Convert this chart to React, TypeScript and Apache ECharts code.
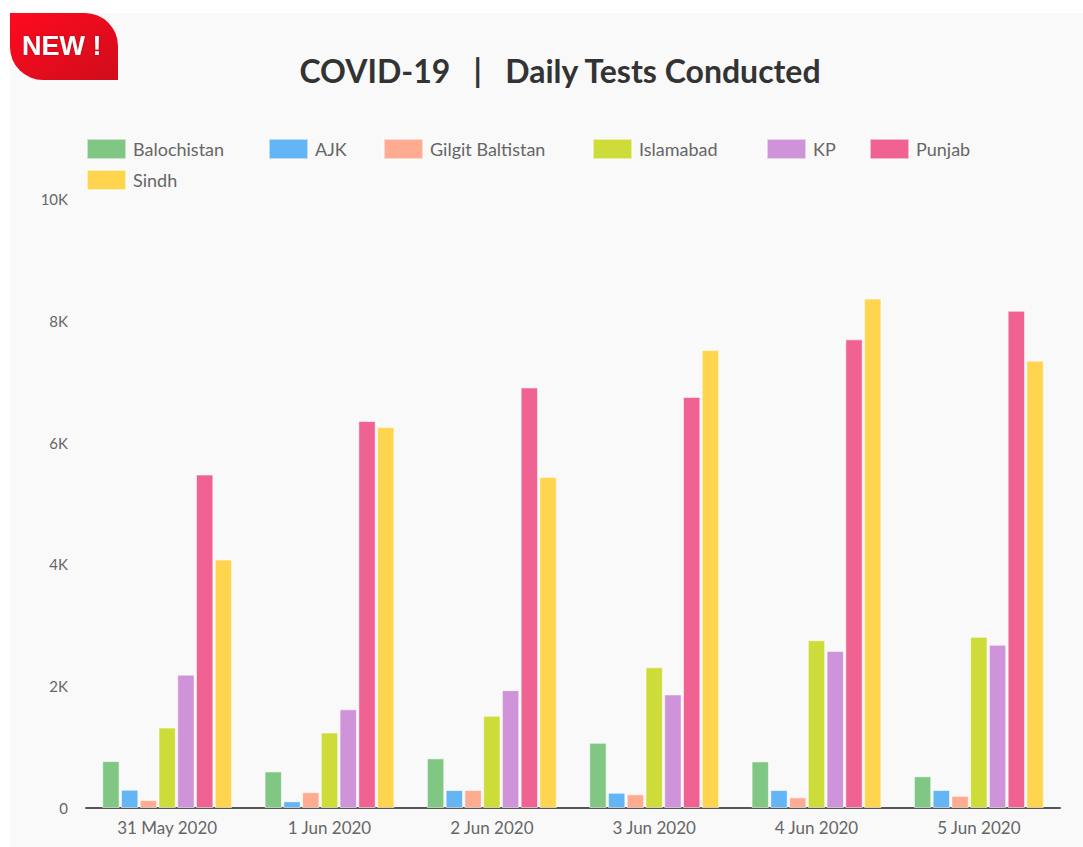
import React, { useEffect, useRef } from "react";
import * as echarts from "echarts";

const categories = ["31 May 2020", "1 Jun 2020", "2 Jun 2020", "3 Jun 2020", "4 Jun 2020", "5 Jun 2020"];
const seriesNames = ["Balochistan", "AJK", "Gilgit Baltistan", "Islamabad", "KP", "Punjab", "Sindh"];
const balochistan = [770, 600, 815, 1070, 765, 520];
const ajk = [300, 110, 295, 250, 295, 295];
const gilgitBaltistan = [130, 260, 295, 225, 175, 200];
const islamabad = [1320, 1240, 1515, 2310, 2755, 2810];
const kp = [2190, 1620, 1935, 1865, 2580, 2680];
const punjab = [5475, 6355, 6905, 6750, 7695, 8165];
const sindh = [4080, 6255, 5435, 7520, 8365, 7345];
const yTicks = [0, 2000, 4000, 6000, 8000, 10000];

const colors = ["#81c784", "#64b5f6", "#ffab91", "#cddc39", "#ce93d8", "#f06292", "#ffd54f"];
const seriesValues = [balochistan, ajk, gilgitBaltistan, islamabad, kp, punjab, sindh];
const legendPos = [
  { left: 86, top: 138 },
  { left: 268, top: 138 },
  { left: 383, top: 138 },
  { left: 592, top: 138 },
  { left: 766, top: 138 },
  { left: 869, top: 138 },
  { left: 86, top: 169 },
];

const FONT = "Lato, 'Open Sans', sans-serif";

export default function App() {
  const ref = useRef<HTMLDivElement>(null);
  useEffect(() => {
    if (!ref.current) return;
    const chart = echarts.init(ref.current, null, { renderer: "svg" });
    chart.setOption({
      animation: false,
      backgroundColor: "transparent",
      textStyle: { fontFamily: FONT },
      title: {
        text: "COVID-19   |   Daily Tests Conducted",
        left: 555,
        textAlign: "center",
        top: 49,
        textStyle: { fontSize: 32, fontWeight: "bold", color: "#333", fontFamily: FONT },
      },
      legend: seriesNames.map((n, i) => ({
        data: [n],
        left: legendPos[i].left,
        top: legendPos[i].top,
        itemWidth: 39,
        itemHeight: 20,
        itemGap: 9,
        icon: "rect",
        padding: 0,
        selectedMode: false,
        textStyle: { fontSize: 18, color: "#666", fontFamily: FONT, padding: [0, 0, 0, 2] },
      })),
      grid: { left: 86, right: 23, top: 199, bottom: 39, containLabel: false },
      xAxis: {
        type: "category",
        data: categories,
        axisLine: { lineStyle: { color: "#555", width: 2 } },
        axisTick: { show: false },
        axisLabel: { fontSize: 17, color: "#666", margin: 11, fontFamily: FONT },
      },
      yAxis: {
        type: "value",
        min: yTicks[0],
        max: yTicks[yTicks.length - 1],
        interval: 2000,
        axisLine: { show: false },
        axisTick: { show: false },
        splitLine: { show: false },
        axisLabel: {
          fontSize: 15,
          color: "#666",
          margin: 18,
          fontFamily: FONT,
          formatter: (v: number) => (v === 0 ? "0" : v / 1000 + "K"),
        },
      },
      series: seriesNames.map((n, i) => ({
        name: n,
        type: "bar",
        data: seriesValues[i],
        barGap: "8%",
        barCategoryGap: "20%",
        itemStyle: {
          color: colors[i],
          borderColor: "rgba(255,255,255,0.55)",
          borderWidth: 1,
        },
      })),
      graphic: [
        {
          type: "rect",
          left: 10,
          top: 13,
          shape: { width: 108, height: 67, r: [0, 33, 0, 33] },
          style: {
            fill: new echarts.graphic.LinearGradient(0, 0, 1, 1, [
              { offset: 0, color: "#ff0a1e" },
              { offset: 1, color: "#d00d1c" },
            ]),
          },
          z: 10,
        },
        {
          type: "text",
          left: 22,
          top: 32,
          style: {
            text: "NEW !",
            fill: "#fff",
            font: "bold 27px 'Liberation Sans', Arial, sans-serif",
            textShadowColor: "rgba(0,0,0,0.3)",
            textShadowBlur: 2,
          },
          z: 11,
        },
      ],
    });
    return () => chart.dispose();
  }, []);
  return (
    <div style={{ position: "fixed", left: 0, top: 0, width: 1083, height: 847, background: "#ffffff" }}>
      <div style={{ position: "absolute", left: 10, top: 13, right: 0, bottom: 0, background: "#f9f9f9" }} />
      <div ref={ref} style={{ position: "absolute", left: 0, top: 0, width: 1083, height: 847 }} />
    </div>
  );
}
